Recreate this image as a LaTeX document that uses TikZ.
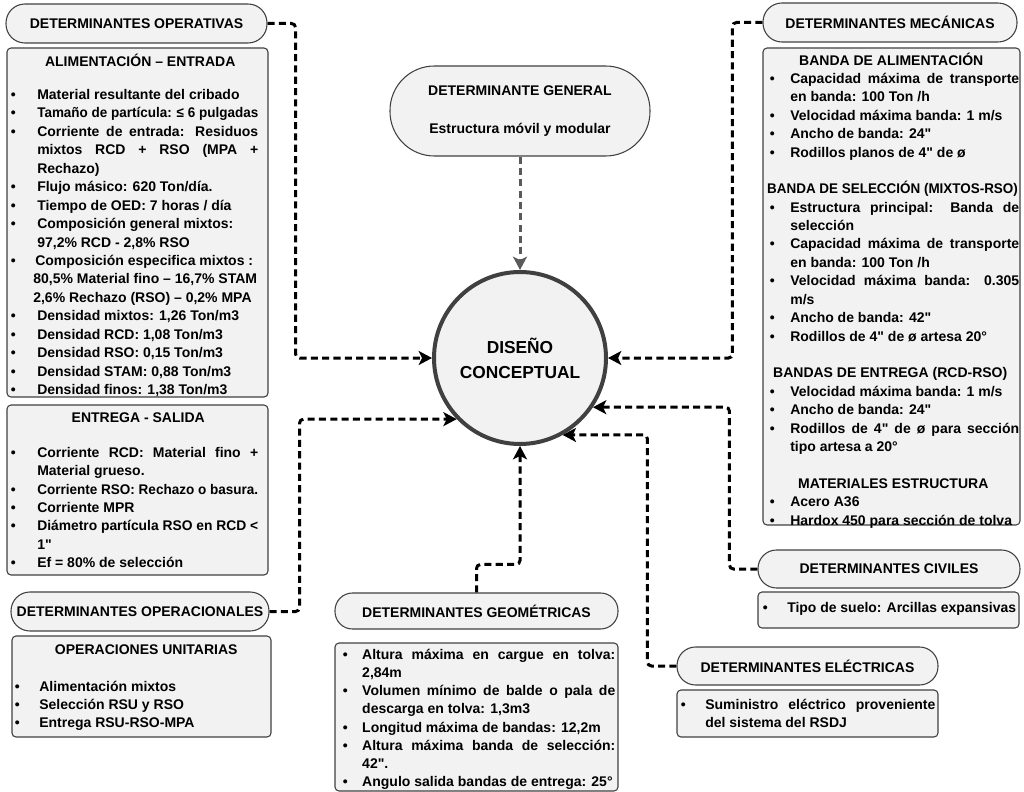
\documentclass[tikz,border=0pt]{standalone}
\usepackage{fontspec}
\setmainfont{Liberation Sans}[Ligatures=TeXOff]
\usetikzlibrary{arrows.meta,fit}
\definecolor{bx}{HTML}{F2F2F2}
\definecolor{bd}{HTML}{404040}
\definecolor{gl}{HTML}{5A5A5A}
\newlength\bw
\newcommand\fitw[1]{\sbox0{#1}\ifdim\wd0>\dimexpr\linewidth-\bw\relax\resizebox{\dimexpr\linewidth-\bw\relax}{\height}{\usebox0}\else\usebox0\fi}
\newcommand\fitj[1]{\sbox0{#1}\ifdim\wd0>\dimexpr\linewidth-\bw\relax\resizebox{\dimexpr\linewidth-\bw\relax}{\height}{\usebox0}\else\makebox[\dimexpr\linewidth-\bw\relax][s]{#1}\fi}
\newcommand\bu[1]{\makebox[\bw][l]{\textbullet}\fitw{#1}}
\newcommand\buj[1]{\makebox[\bw][l]{\textbullet}\fitj{#1}}
\newcommand\co[1]{\hspace*{\bw}\fitw{#1}}
\newcommand\coj[1]{\hspace*{\bw}\fitj{#1}}
\newcommand\hd[2]{\makebox[\linewidth][c]{\hspace*{#1}#2}}
\begin{document}
\begin{tikzpicture}[x=0.75pt,y=-0.75pt,
  hdr/.style={draw=bd, fill=bx, line width=0.8pt, inner sep=0pt,
    font=\fontsize{10.5}{13}\selectfont\bfseries},
  panel/.style={draw=bd, fill=bx, line width=0.8pt, inner sep=0pt, rounded corners=3pt},
  txt/.style={anchor=base west, inner sep=0pt},
  conn/.style={line width=2.25pt, dash pattern=on 5.3pt off 3.2pt, rounded corners=3pt,
    -{Stealth[length=10pt,width=10.5pt,inset=2.5pt]}}]
\useasboundingbox (0,0) rectangle (1024,792);

% ---------- centre ----------
\node[circle, draw=bd, line width=3pt, fill=bx, minimum size=129pt, inner sep=0pt,
  align=center, font=\fontsize{13}{18.75}\selectfont\bfseries] (c) at (520,358) {DISEÑO\\CONCEPTUAL};

% ---------- general ----------
\node[hdr, minimum width=195pt, minimum height=67.5pt, rounded corners=33.3pt, align=center,
  font=\fontsize{10.5}{28.5}\selectfont\bfseries] (gen) at (520,111) {DETERMINANTE GENERAL\\Estructura móvil y modular};

% ---------- operativas ----------
\node[hdr, minimum width=195.75pt, minimum height=29.25pt, rounded corners=14.2pt] (opH) at (136.5,23.5) {DETERMINANTES OPERATIVAS};
\node[panel, fit={(7,48) (268,397)}] (opA) {};
\node[txt, font=\fontsize{10.5}{13.84}\selectfont\bfseries] (opAt) at (10.5,67) {\parbox[t]{185.6pt}{\setlength\bw{19.9pt}%
\hd{8.6pt}{ALIMENTACIÓN – ENTRADA}\\[10.5pt]
\bu{Material resultante del cribado}\\
\bu{Tamaño de partícula: ≤ 6 pulgadas}\\
\buj{Corriente de entrada: Residuos}\\
\coj{mixtos RCD + RSO (MPA +}\\
\co{Rechazo)}\\
\bu{Flujo másico: 620 Ton/día.}\\
\bu{Tiempo de OED: 7 horas / día}\\
\bu{Composición general mixtos:}\\
\co{97,2\% RCD - 2,8\% RSO}\\
\bu{\hspace*{-1.5pt}Composición especifica mixtos :}\\
\co{\hspace*{-3pt}80,5\% Material fino – 16,7\% STAM}\\
\co{\hspace*{-3pt}2,6\% Rechazo (RSO) – 0,2\% MPA}\\
\bu{Densidad mixtos: 1,26 Ton/m3}\\
\bu{Densidad RCD: 1,08 Ton/m3}\\
\bu{Densidad RSO: 0,15 Ton/m3}\\
\bu{Densidad STAM: 0,88 Ton/m3}\\
\bu{Densidad finos: 1,38 Ton/m3}}};

\node[panel, fit={(7,405) (268,575)}] (opB) {};
\node[txt, font=\fontsize{10.5}{13.73}\selectfont\bfseries] (opBt) at (10.5,422) {\parbox[t]{185.6pt}{\setlength\bw{19.9pt}%
\hd{5.6pt}{ENTREGA - SALIDA}\\[12.9pt]
\buj{Corriente RCD: Material fino +}\\
\co{Material grueso.}\\
\bu{Corriente RSO: Rechazo o basura.}\\
\bu{Corriente MPR}\\
\buj{Diámetro partícula RSO en RCD <}\\
\co{1"}\\
\bu{Ef = 80\% de selección}}};

% ---------- operacionales ----------
\node[hdr, minimum width=193.5pt, minimum height=29.25pt, rounded corners=14.2pt] (oqH) at (140,611.5) {DETERMINANTES OPERACIONALES};
\node[panel, fit={(12,636) (271,737)}] (oqA) {};
\node[txt, font=\fontsize{10.5}{13.5}\selectfont\bfseries] (oqAt) at (14.5,654) {\parbox[t]{190.1pt}{\setlength\bw{18.4pt}%
\hd{7.1pt}{OPERACIONES UNITARIAS}\\[14.6pt]
\bu{Alimentación mixtos}\\
\bu{Selección RSU y RSO}\\
\bu{Entrega RSU-RSO-MPA}}};

% ---------- geometricas ----------
\node[hdr, minimum width=212.25pt, minimum height=27pt, rounded corners=13.1pt] (geH) at (476.5,611) {DETERMINANTES GEOMÉTRICAS};
\node[panel, fit={(335,643) (618,791)}] (geA) {};
\node[txt, font=\fontsize{10.5}{13.6}\selectfont\bfseries] (geAt) at (342.5,659.5) {\parbox[t]{204.4pt}{\setlength\bw{14.6pt}%
\buj{Altura máxima en cargue en tolva:}\\
\co{2,84m}\\
\buj{Volumen mínimo de balde o pala de}\\
\co{descarga en tolva: 1,3m3}\\
\bu{Longitud máxima de bandas: 12,2m}\\
\buj{Altura máxima banda de selección:}\\
\co{42".}\\
\bu{Angulo salida bandas de entrega: 25°}}};

% ---------- civiles ----------
\node[hdr, minimum width=196.5pt, minimum height=28.5pt, rounded corners=13.9pt] (ciH) at (889,569) {DETERMINANTES CIVILES};
\node[panel, fit={(758,592) (1019,628)}] (ciA) {};
\node[txt, font=\fontsize{10.5}{13.5}\selectfont\bfseries] (ciAt) at (762.5,612.5) {\parbox[t]{190pt}{\setlength\bw{18.4pt}%
\bu{Tipo de suelo: Arcillas expansivas}}};

% ---------- electricas ----------
\node[hdr, minimum width=195.75pt, minimum height=28.5pt, rounded corners=13.9pt] (elH) at (807.5,666) {DETERMINANTES ELÉCTRICAS};
\node[panel, fit={(677,690) (938,737)}] (elA) {};
\node[txt, font=\fontsize{10.5}{13.5}\selectfont\bfseries] (elAt) at (680.5,709.5) {\parbox[t]{190.9pt}{\setlength\bw{18.4pt}%
\buj{Suministro eléctrico proveniente}\\
\co{del sistema del RSDJ}}};

% ---------- mecanicas ----------
\node[hdr, minimum width=190.5pt, minimum height=29.25pt, rounded corners=14.2pt] (meH) at (890,22.5) {DETERMINANTES MECÁNICAS};
\node[panel, fit={(763,48) (1020,525)}] (meA) {};
\node[txt, font=\fontsize{10.5}{13.8}\selectfont\bfseries] (meAt) at (769.5,65) {\parbox[t]{187.1pt}{\setlength\bw{15.4pt}%
\hd{-4.9pt}{BANDA DE ALIMENTACIÓN}\\
\buj{Capacidad máxima de transporte}\\
\co{en banda: 100 Ton /h}\\
\bu{Velocidad máxima banda: 1 m/s}\\
\bu{Ancho de banda: 24"}\\
\bu{Rodillos planos de 4" de ø}\\
\mbox{}\\
\hspace*{-1.9pt}\scalebox{0.96}[1]{BANDA DE SELECCIÓN (MIXTOS-RSO)}\\
\buj{Estructura principal: Banda de}\\
\co{selección}\\
\buj{Capacidad máxima de transporte}\\
\co{en banda: 100 Ton /h}\\
\buj{Velocidad máxima banda: 0.305}\\
\co{m/s}\\
\bu{Ancho de banda: 42"}\\
\bu{Rodillos de 4" de ø artesa 20°}\\
\mbox{}\\
\hd{-6.4pt}{BANDAS DE ENTREGA (RCD-RSO)}\\
\bu{Velocidad máxima banda: 1 m/s}\\
\bu{Ancho de banda: 24"}\\
\buj{Rodillos de 4" de ø para sección}\\
\co{tipo artesa a 20°}\\
\mbox{}\\
\hd{-1.9pt}{MATERIALES ESTRUCTURA}\\
\bu{Acero A36}\\
\bu{Hardox 450 para sección de tolva}}};

% ---------- connectors ----------
\draw[conn, draw=gl, -{Stealth[length=10pt,width=10.5pt,inset=2.5pt,fill=gl]}] (gen.south) -- (c.north);
\draw[conn] (opH.east) -- ++(28,0) |- (c.west);
\draw[conn] (meH.west) -- ++(-30,0) |- (c.east);
\draw[conn] (oqH.east) -- ++(30,0) |- (c.224);
\draw[conn] (geH.north) -- ++(0,-28) -| (c.south);
\draw[conn] (ciH.west) -- ++(-28,0) |- (c.-34);
\draw[conn] (elH.west) -- ++(-29,0) |- (c.-61);
\end{tikzpicture}
\end{document}
